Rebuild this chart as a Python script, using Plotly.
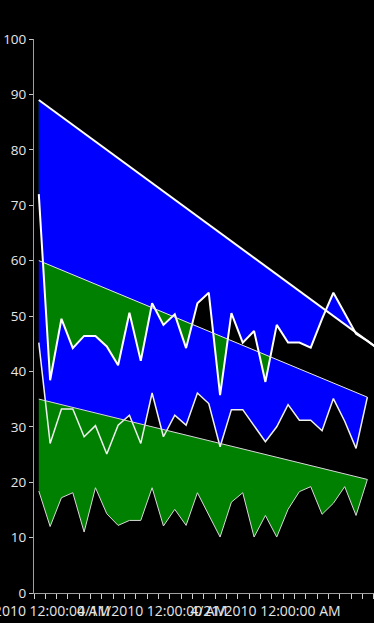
import plotly.graph_objects as go
import pandas as pd

# ---------------- data ----------------
dates = list(pd.date_range("2010-04-01", periods=31, freq="D"))

# series 1: high / low (31 points, runs past the right edge)
upper_blue = [89.0, 87.5, 86.0, 84.5, 83.0, 81.5, 80.0, 78.5, 77.0, 75.5, 74.0,
              72.5, 71.0, 69.5, 68.0, 66.5, 65.0, 63.5, 62.0, 60.5, 59.0, 57.5,
              56.0, 54.5, 53.0, 51.5, 50.0, 48.5, 47.0, 45.5, 44.0]
jag_top = [72.0, 38.4, 49.5, 44.2, 46.4, 46.4, 44.5, 41.1, 50.6, 41.9, 52.3,
           48.4, 50.3, 44.2, 52.3, 54.2, 35.7, 50.5, 45.2, 47.3, 38.1, 48.4,
           45.2, 45.2, 44.3, 49.5, 54.2, 50.5, 46.8, 45.5, 44.0]

# series 2: high / low (30 points)
upper_mid = [60.0, 59.15, 58.3, 57.45, 56.6, 55.75, 54.9, 54.05, 53.2, 52.35,
             51.5, 50.65, 49.8, 48.95, 48.1, 47.25, 46.4, 45.55, 44.7, 43.85,
             43.0, 42.15, 41.3, 40.45, 39.6, 38.75, 37.9, 37.05, 36.2, 35.35]
jag_mid = [45.2, 27.0, 33.2, 33.2, 28.2, 30.2, 25.1, 30.3, 32.1, 27.0, 36.1,
           28.2, 32.1, 30.3, 36.1, 34.2, 26.4, 33.1, 33.1, 30.2, 27.3, 30.0,
           34.0, 31.2, 31.2, 29.3, 35.1, 31.0, 26.1, 35.35]

# series 3: high / low (30 points)
upper_low = [35.0, 34.5, 34.0, 33.5, 33.0, 32.5, 32.0, 31.5, 31.0, 30.5, 30.0,
             29.5, 29.0, 28.5, 28.0, 27.5, 27.0, 26.5, 26.0, 25.5, 25.0, 24.5,
             24.0, 23.5, 23.0, 22.5, 22.0, 21.5, 21.0, 20.5]
jag_low = [18.4, 12.0, 17.2, 18.1, 11.0, 19.0, 14.3, 12.2, 13.1, 13.1, 19.0,
           12.1, 15.1, 12.2, 18.1, 14.0, 10.1, 16.4, 18.1, 10.1, 14.0, 10.1,
           15.1, 18.3, 19.2, 14.2, 16.2, 19.2, 14.0, 20.5]

label_dates = ["2010-04-01", "2010-04-11", "2010-04-21"]
label_text = ["4/1/2010 12:00:00 AM", "4/11/2010 12:00:00 AM", "4/21/2010 12:00:00 AM"]

BLUE = "#0000FF"
GREEN = "#008000"

d1 = dates[:len(upper_blue)]
d2 = dates[:len(upper_mid)]
d3 = dates[:len(upper_low)]

fig = go.Figure()

# overlap of band 1 and band 2 shows green: green underlay of band 1
fig.add_trace(go.Scatter(
    x=d1 + d1[::-1], y=upper_blue + jag_top[::-1],
    mode="none", fill="toself", fillcolor=GREEN, hoverinfo="skip", showlegend=False))

# band 1 and band 2 in blue, opposite winding so that their overlap stays open
fig.add_trace(go.Scatter(
    x=d1 + d1[::-1] + [None] + d2 + d2[::-1],
    y=upper_blue + jag_top[::-1] + [None] + jag_mid + upper_mid[::-1],
    mode="none", fill="toself", fillcolor=BLUE, hoverinfo="skip", showlegend=False))

# band 3 in green
fig.add_trace(go.Scatter(
    x=d3 + d3[::-1], y=upper_low + jag_low[::-1],
    mode="none", fill="toself", fillcolor=GREEN, hoverinfo="skip", showlegend=False))

lines = [(d1, upper_blue, "#ffffff", 2), (d1, jag_top, "#ffffff", 2),
         (d2, upper_mid, "#e8e8e8", 1), (d2, jag_mid, "#f0f0f0", 1.5),
         (d3, upper_low, "#d8d8d8", 1), (d3, jag_low, "#d8d8d8", 1)]
for xs, vals, col, w in lines:
    fig.add_trace(go.Scatter(x=xs, y=vals, mode="lines",
                             line=dict(color=col, width=w), showlegend=False))

px_per_day = 11.33
start = pd.Timestamp("2010-04-01") - pd.Timedelta(days=4.8 / px_per_day)
end = start + pd.Timedelta(days=340 / px_per_day)
minor_vals = [start + pd.Timedelta(days=k) for k in range(31)]

fig.update_layout(
    template="none",
    width=374, height=623, autosize=False,
    margin=dict(l=34, r=0, t=39, b=30, pad=0, autoexpand=False),
    paper_bgcolor="black", plot_bgcolor="black",
    font=dict(family="Open Sans", color="#e6e6e6", size=13),
    showlegend=False,
)
fig.update_xaxes(
    type="date", range=[start, end], automargin=False,
    tickmode="array", tickvals=label_dates, ticktext=label_text,
    tickangle=0, ticks="outside", ticklen=5, tickcolor="rgba(0,0,0,0)",
    ticklabeloverflow="allow",
    tickfont=dict(size=14, color="#e6e6e6"),
    showline=True, linecolor="#a0a0a0", linewidth=1,
    showgrid=False, zeroline=False,
    minor=dict(tickmode="array", tickvals=minor_vals, ticks="outside", ticklen=5,
               tickcolor="#d0d0d0", showgrid=False),
)
fig.update_yaxes(
    range=[0, 100], tickmode="linear", tick0=0, dtick=10, automargin=False,
    ticks="outside", ticklen=4, tickcolor="#c8c8c8",
    showline=True, linecolor="#a0a0a0", linewidth=1,
    showgrid=False, zeroline=False,
    tickfont=dict(size=13.5, color="#e6e6e6"),
)

fig.write_html(
    "out.html",
    config={"displayModeBar": False},
    post_script=(
        "document.body.style.margin='0';document.body.style.background='black';"
        "document.documentElement.style.background='black';"
    ),
)
